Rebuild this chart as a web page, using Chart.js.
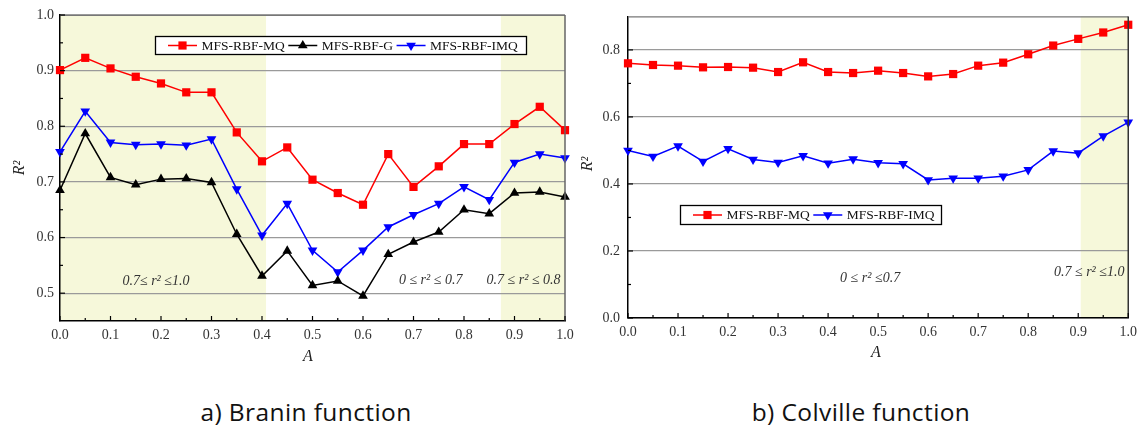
<!DOCTYPE html>
<html><head><meta charset="utf-8">
<script src="https://cdn.jsdelivr.net/npm/chart.js@4.4.1/dist/chart.umd.min.js"></script>
<style>
body{margin:0;background:#fff;width:1143px;height:431px;overflow:hidden;position:relative}
canvas{position:absolute;top:0}
.cap{position:absolute;top:400px;font-family:'Open Sans',Lato,sans-serif;font-size:24.5px;line-height:24px;letter-spacing:0.4px;color:#111;white-space:nowrap;transform:translateX(-50%)}
</style></head><body>
<canvas id="c1" width="580" height="380" style="left:0"></canvas>
<canvas id="c2" width="563" height="380" style="left:580px"></canvas>
<div class="cap" style="left:306px">a) Branin function</div>
<div class="cap" style="left:861px">b) Colville function</div>
<script>
// ---- data ----
const A = [0.0,0.05,0.1,0.15,0.2,0.25,0.3,0.35,0.4,0.45,0.5,0.55,0.6,0.65,0.7,0.75,0.8,0.85,0.9,0.95,1.0];
const braninMQ  = [0.901,0.923,0.904,0.889,0.877,0.861,0.861,0.789,0.737,0.762,0.704,0.680,0.659,0.750,0.691,0.728,0.768,0.768,0.804,0.835,0.793];
const braninG   = [0.685,0.787,0.708,0.695,0.705,0.706,0.699,0.606,0.531,0.576,0.514,0.522,0.495,0.570,0.592,0.610,0.650,0.643,0.680,0.682,0.673];
const braninIMQ = [0.754,0.827,0.771,0.767,0.768,0.766,0.777,0.687,0.604,0.661,0.577,0.538,0.577,0.619,0.641,0.661,0.691,0.668,0.735,0.750,0.743];
const colvilleMQ  = [0.760,0.755,0.753,0.748,0.749,0.747,0.734,0.763,0.734,0.731,0.738,0.731,0.721,0.728,0.753,0.762,0.787,0.813,0.833,0.852,0.875];
const colvilleIMQ = [0.500,0.482,0.513,0.467,0.505,0.473,0.464,0.484,0.462,0.474,0.463,0.460,0.412,0.417,0.417,0.423,0.442,0.498,0.492,0.543,0.584];
const xTicks = [0.0,0.1,0.2,0.3,0.4,0.5,0.6,0.7,0.8,0.9,1.0];
const xMinor = [0.05,0.15,0.25,0.35,0.45,0.55,0.65,0.75,0.85,0.95];
const yTicksLeft = [0.5,0.6,0.7,0.8,0.9,1.0];
const yMinorLeft = [0.55,0.65,0.75,0.85,0.95];
const yTicksRight = [0.0,0.2,0.4,0.6,0.8];
const yMinorRight = [0.1,0.3,0.5,0.7];
const shadeLeft = [[0.0,0.408],[0.873,1.0]];
const shadeRight = [[0.905,1.0]];
const notesLeft = [{a:0.19,r:0.5215,t:'0.7\u2264 r\u00B2 \u22641.0'},{a:0.734,r:0.523,t:'0 \u2264 r\u00B2 \u2264 0.7'},{a:0.918,r:0.523,t:'0.7 \u2264 r\u00B2 \u2264 0.8'}];
const notesRight = [{a:0.484,r:0.119,t:'0 \u2264 r\u00B2 \u22640.7'},{a:0.922,r:0.137,t:'0.7 \u2264 r\u00B2 \u22641.0'}];

const SERIF = "'Liberation Serif','Times New Roman',serif";
const RED='#ff0000', BLUE='#0000ff', BLACK='#000000';

function pts(ys){ return ys.map((y,i)=>({x:A[i], y:y})); }
function ds(label, ys, color, style, rot){
  return {label, data:pts(ys), borderColor:color, backgroundColor:color, borderWidth:1.5,
    pointStyle:style, pointRotation:rot||0, pointRadius: style==='rect'?5.8:5.6,
    pointBorderWidth:0, pointBackgroundColor:color, clip:false, tension:0};
}

function marker(ctx, style, rot, x, y, color){
  ctx.save(); ctx.fillStyle=color; ctx.beginPath();
  if(style==='rect'){ const s=4.1; ctx.rect(x-s,y-s,2*s,2*s); }
  else { const r=5.6; const sgn = rot? -1:1;
    ctx.moveTo(x, y - sgn*r);
    ctx.lineTo(x + r*0.866, y + sgn*r*0.5);
    ctx.lineTo(x - r*0.866, y + sgn*r*0.5); ctx.closePath(); }
  ctx.fill(); ctx.restore();
}

function decor(cfg){
  return {
    id:'decor',
    beforeDraw(chart){
      const ctx=chart.ctx, ca=chart.chartArea, xs=chart.scales.x;
      ctx.save(); ctx.fillStyle='#f6f8da';
      cfg.shade.forEach(([a,b])=>{ const x0=xs.getPixelForValue(a), x1=xs.getPixelForValue(b);
        ctx.fillRect(x0, ca.top, x1-x0, ca.bottom-ca.top); });
      ctx.restore();
    },
    afterDraw(chart){
      const ctx=chart.ctx, ca=chart.chartArea, xs=chart.scales.x, ys=chart.scales.y;
      ctx.save();
      ctx.strokeStyle='#777'; ctx.lineWidth=1.2;
      ctx.beginPath(); ctx.moveTo(ca.left, ca.top+0.5); ctx.lineTo(ca.right, ca.top+0.5); ctx.stroke();
      ctx.strokeStyle=cfg.rightBorder; ctx.lineWidth=1.5;
      ctx.beginPath(); ctx.moveTo(ca.right, ca.top); ctx.lineTo(ca.right, ca.bottom); ctx.stroke();
      ctx.strokeStyle='#000'; ctx.lineWidth=1.2;
      const tk=(vals,len,axis)=>vals.forEach(v=>{ ctx.beginPath();
        if(axis==='x'){ const p=xs.getPixelForValue(v); ctx.moveTo(p,ca.bottom); ctx.lineTo(p,ca.bottom-len);} 
        else { const p=ys.getPixelForValue(v); ctx.moveTo(ca.left,p); ctx.lineTo(ca.left+len,p);} ctx.stroke(); });
      tk(xTicks,5,'x'); tk(xMinor,3,'x'); tk(cfg.yTicks,5,'y'); tk(cfg.yMinor,3,'y');
      ctx.fillStyle='#333'; ctx.font='italic 14px '+SERIF; ctx.textAlign='center'; ctx.textBaseline='middle';
      cfg.notes.forEach(n=>ctx.fillText(n.t, xs.getPixelForValue(n.a), ys.getPixelForValue(n.r)));
      ctx.fillStyle='#222'; ctx.font='italic 16px '+SERIF;
      ctx.fillText('A', cfg.ax[0], cfg.ax[1]);
      ctx.save(); ctx.translate(cfg.ry[0], cfg.ry[1]); ctx.rotate(-Math.PI/2); ctx.fillText('R\u00B2',0,0); ctx.restore();
      const L=cfg.legend; ctx.fillStyle='#fff'; ctx.fillRect(L.x,L.y,L.w,L.h);
      ctx.strokeStyle='#000'; ctx.lineWidth=1.3; ctx.strokeRect(L.x+0.5,L.y+0.5,L.w,L.h);
      ctx.font='13.5px '+SERIF; ctx.textAlign='left'; ctx.textBaseline='middle';
      let x=L.x+13; const cy=L.y+L.h/2+0.5;
      chart.data.datasets.forEach(d=>{
        ctx.strokeStyle=d.borderColor; ctx.lineWidth=1.5;
        ctx.beginPath(); ctx.moveTo(x,cy); ctx.lineTo(x+29,cy); ctx.stroke();
        marker(ctx, d.pointStyle, d.pointRotation, x+14.5, cy, d.borderColor);
        ctx.fillStyle='#111'; ctx.fillText(d.label, x+33.5, cy+0.5);
        x += 33.5 + ctx.measureText(d.label).width + 3.5;
      });
      ctx.restore();
    }
  };
}

function makeChart(id, datasets, c){
  return new Chart(document.getElementById(id), {
    type:'line',
    data:{datasets},
    options:{
      responsive:false, animation:false, devicePixelRatio:1,
      layout:{padding:{left:0, top:c.top, right:c.right, bottom:0}},
      plugins:{legend:{display:false}, tooltip:{enabled:false}},
      scales:{
        x:{type:'linear', min:0, max:1,
          afterBuildTicks:s=>{ s.ticks = xTicks.map(v=>({value:v})); },
          afterFit:s=>{ s.height = c.xh; },
          grid:{display:false, drawTicks:false},
          border:{display:true, color:'#000', width:1.5},
          ticks:{padding:c.xpad, color:'#333', font:{family:SERIF, size:14}, maxRotation:0, autoSkip:false, callback:v=>Number(v).toFixed(1)}},
        y:{type:'linear', min:c.ymin, max:c.ymax,
          afterBuildTicks:s=>{ s.ticks = c.yTicks.map(v=>({value:v})); },
          afterFit:s=>{ s.width = c.yw; },
          grid:{color:'#9a9a9a', lineWidth:1.2, drawTicks:false},
          border:{display:true, color:'#000', width:1.5},
          ticks:{padding:c.ypad, color:'#333', font:{family:SERIF, size:14}, autoSkip:false, callback:v=>Number(v).toFixed(1)}}
      }
    },
    plugins:[decor(c)]
  });
}

makeChart('c1', [
  ds('MFS-RBF-MQ', braninMQ, RED, 'rect'),
  ds('MFS-RBF-G', braninG, BLACK, 'triangle'),
  ds('MFS-RBF-IMQ', braninIMQ, BLUE, 'triangle', 180)
], {top:15, right:15, xh:59, yw:60, xpad:6, ypad:6, ymin:0.45, ymax:1.0,
    yTicks:yTicksLeft, yMinor:yMinorLeft, shade:shadeLeft, notes:notesLeft, rightBorder:'#666',
    ax:[308,357], ry:[20,168], legend:{x:155,y:36,w:371,h:18}});

makeChart('c2', [
  ds('MFS-RBF-MQ', colvilleMQ, RED, 'rect'),
  ds('MFS-RBF-IMQ', colvilleIMQ, BLUE, 'triangle', 180)
], {top:10, right:9, xh:62, yw:48, xpad:6, ypad:8, ymin:0.0, ymax:0.9,
    yTicks:yTicksRight, yMinor:yMinorRight, shade:shadeRight, notes:notesRight, rightBorder:'#333',
    ax:[296,353], ry:[8,164], legend:{x:100,y:205,w:261,h:19}});
</script>
</body></html>
